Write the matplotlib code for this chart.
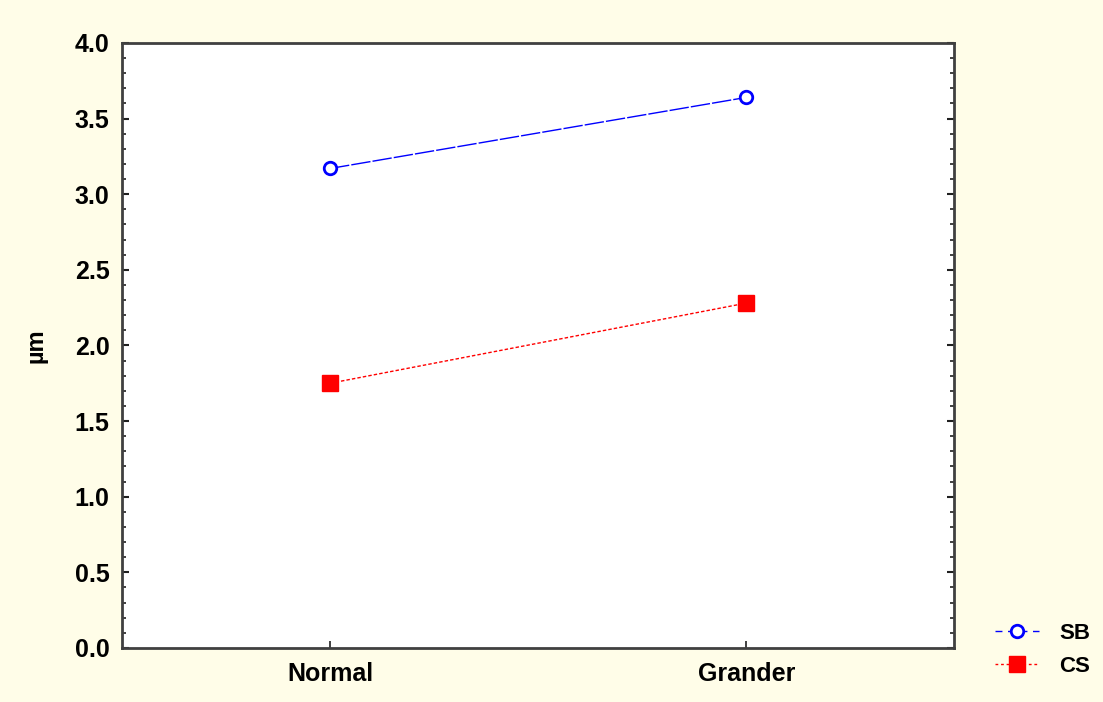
import matplotlib.pyplot as plt
from matplotlib.ticker import MultipleLocator
from matplotlib.lines import Line2D

# data
groups = ['Normal', 'Grander']
sb_vals = [3.17, 3.64]
cs_vals = [1.75, 2.28]
series_names = ['SB', 'CS']

plt.rcParams['font.family'] = ['Liberation Sans', 'DejaVu Sans']
plt.rcParams['font.weight'] = 'bold'

bg = '#FFFDE8'
fig = plt.figure(figsize=(11.03, 7.02), dpi=100, facecolor=bg)
ax = fig.add_axes([0.1106, 0.0770, 0.7546, 0.8618])
ax.set_facecolor('white')

x = range(len(groups))
ax.plot(x, sb_vals, color='blue', lw=1, ls=(0, (14, 1.5)), marker='o', ms=9,
        mfc='white', mec='blue', mew=2)
ax.plot(x, cs_vals, color='red', lw=1, ls=(0, (2.5, 1.5)), marker='s', ms=11,
        mfc='red', mec='red', mew=1)

ax.set_xlim(-0.5, 1.5)
ax.set_ylim(0, 4.0)
ax.set_xticks(list(x))
ax.set_xticklabels(groups, fontsize=18, fontweight='bold')
ax.yaxis.set_major_locator(MultipleLocator(0.5))
ax.yaxis.set_minor_locator(MultipleLocator(0.1))
ax.set_yticklabels(['%.1f' % v for v in ax.get_yticks()], fontsize=18, fontweight='bold')
ax.set_ylim(0, 4.0)

ax.tick_params(axis='y', which='both', direction='in', left=True, right=True,
               color='#202020')
ax.tick_params(axis='y', which='major', length=5, width=1.5, pad=9)
ax.tick_params(axis='y', which='minor', length=3, width=1.2)
ax.tick_params(axis='x', direction='in', length=5, width=1.2, pad=10,
               color='#202020')

for s in ax.spines.values():
    s.set_color('#404040')
    s.set_linewidth(2)

ax.set_ylabel('µm', fontsize=17, fontweight='bold')
ax.yaxis.set_label_coords(-0.09, 0.5)

handles = [
    Line2D([], [], color='blue', lw=1, ls=(0, (5, 4)), marker='o', ms=9,
           mfc='white', mec='blue', mew=2),
    Line2D([], [], color='red', lw=1, ls=(0, (2, 2)), marker='s', ms=11,
           mfc='red', mec='red'),
]
leg = fig.legend(handles, series_names, loc='center left',
                 bbox_to_anchor=(995 / 1103, 1 - 650 / 702), frameon=False,
                 fontsize=16, handlelength=2.0, labelspacing=0.55,
                 handletextpad=0.9, borderpad=0, borderaxespad=0)
for t in leg.get_texts():
    t.set_fontweight('bold')

fig.savefig('out.png', dpi=100, facecolor=bg)
